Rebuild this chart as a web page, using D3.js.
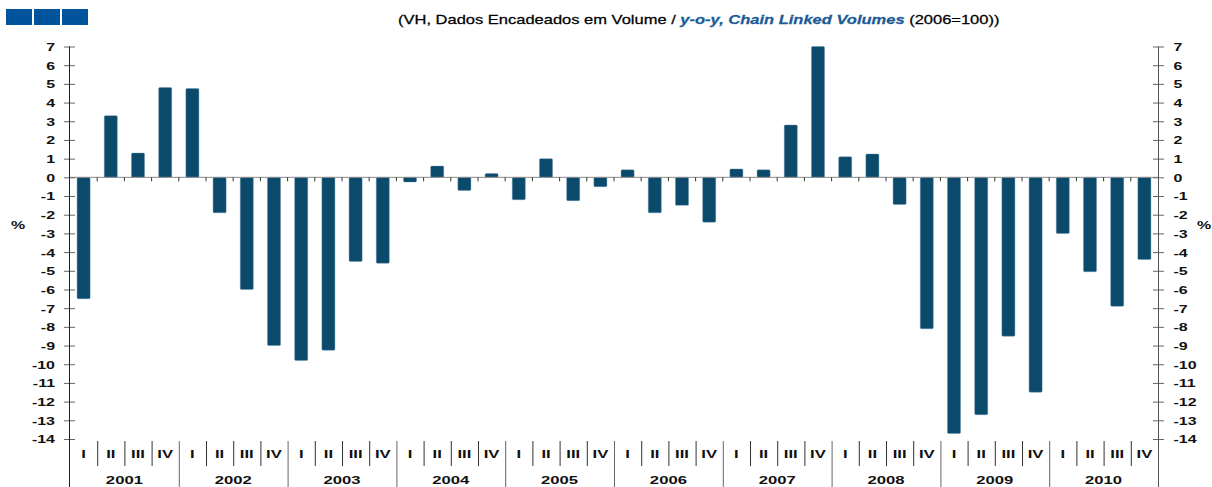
<!DOCTYPE html>
<html><head><meta charset="utf-8">
<script src="https://cdn.jsdelivr.net/npm/d3@7"></script>
<style>
body{margin:0;background:#fff}
svg{display:block}
text{font-family:"Liberation Sans",Arial,sans-serif}
</style>
</head><body>
<svg id="c" width="1212" height="487"></svg>
<script>
const years = ["2001","2002","2003","2004","2005","2006","2007","2008","2009","2010"];
const quarters = ["I","II","III","IV"];
const values = [
  -6.5, 3.3, 1.3, 4.8,
   4.75, -1.9, -6.0, -9.0,
  -9.8, -9.25, -4.5, -4.6,
  -0.25, 0.6, -0.7, 0.2,
  -1.2, 1.0, -1.25, -0.5,
   0.4, -1.9, -1.5, -2.4,
   0.45, 0.4, 2.8, 7.0,
   1.1, 1.25, -1.45, -8.1,
  -13.7, -12.7, -8.5, -11.5,
  -3.0, -5.05, -6.9, -4.4
];
const yTicks = d3.range(-14, 8);
const titleParts = [
  {t:"(VH, Dados Encadeados em Volume / ", c:"#000", s:"normal", w:"normal"},
  {t:"y-o-y, Chain Linked Volumes", c:"#1b5b96", s:"italic", w:"bold"},
  {t:" (2006=100))", c:"#000", s:"normal", w:"normal"}
];

const SX = 1.45;
const barColor = "#0b4a6b";
const svg = d3.select("#c");

const cats = [];
years.forEach(yv => quarters.forEach(q => cats.push(yv + "-" + q)));

const x = d3.scaleBand().domain(cats).range([70, 1158]).paddingInner(0.52).paddingOuter(0.26);
const y = d3.scaleLinear().domain([-14, 7]).range([439, 46.5]);
const step = x.step();
const x0 = x.range()[0];
const zeroY = y(0);

// logo squares
svg.append("g").selectAll("rect").data([0,1,2]).join("rect")
  .attr("x", d => 6 + d*28).attr("y", 9).attr("width", 26).attr("height", 16)
  .attr("fill", "#00549b");

// title
const tg = svg.append("g");
const tt = tg.append("text").attr("x", 0).attr("y", 0).attr("font-size", 13)
  .attr("stroke-width", 0.25);
titleParts.forEach(p => tt.append("tspan").text(p.t).attr("fill", p.c).attr("stroke", p.c)
  .attr("font-style", p.s).attr("font-weight", p.w));
const tw = tt.node().getComputedTextLength();
tg.attr("transform", `translate(398,24) scale(${602/tw},1)`);

// bars
svg.append("g").selectAll("rect").data(values).join("rect")
  .attr("x", (d,i) => x(cats[i]))
  .attr("width", x.bandwidth())
  .attr("y", d => d >= 0 ? y(d) : zeroY)
  .attr("height", d => Math.abs(y(d) - zeroY))
  .attr("rx", 1.2)
  .attr("fill", barColor)
  .attr("stroke", "#5f8fab").attr("stroke-width", 0.4);

// zero line
svg.append("line").attr("x1", 70).attr("x2", 1158).attr("y1", zeroY).attr("y2", zeroY)
  .attr("stroke", "#8a8a8a").attr("stroke-width", 1);
svg.append("g").selectAll("line").data(d3.range(1, cats.length)).join("line")
  .attr("x1", i => x0 + i*step).attr("x2", i => x0 + i*step)
  .attr("y1", zeroY).attr("y2", zeroY + 4)
  .attr("stroke", "#333").attr("stroke-width", 1);

// y axes
function styleAxis(g, side) {
  g.select(".domain").remove();
  g.selectAll(".tick line").attr("x1", -5.5).attr("x2", 5.5).attr("stroke", "#666");
  g.selectAll(".tick text")
    .attr("font-size", 11).attr("font-weight", "bold").attr("fill", "#111")
    .attr("font-family", '"Liberation Sans",Arial,sans-serif')
    .attr("transform", `scale(${SX},1)`)
    .attr("x", side === "left" ? -14.5/SX : 15/SX)
    .attr("dy", "0.36em");
}
const yl = svg.append("g").attr("transform", "translate(69.5,0)")
  .call(d3.axisLeft(y).tickValues(yTicks).tickFormat(d => String(d)).tickSize(6));
styleAxis(yl, "left");
const yr = svg.append("g").attr("transform", "translate(1158.5,0)")
  .call(d3.axisRight(y).tickValues(yTicks).tickFormat(d => String(d)).tickSize(6));
styleAxis(yr, "right");

svg.append("line").attr("x1", 69.5).attr("x2", 69.5).attr("y1", 46.5).attr("y2", 487)
  .attr("stroke", "#222").attr("stroke-width", 1);
svg.append("line").attr("x1", 1158.5).attr("x2", 1158.5).attr("y1", 46.5).attr("y2", 487)
  .attr("stroke", "#555").attr("stroke-width", 1);

// stretched bold text helper
function stext(px, py, str, size, anchor) {
  svg.append("g").attr("transform", `translate(${px},${py}) scale(${SX},1)`)
    .append("text").text(str).attr("font-size", size).attr("font-weight", "bold")
    .attr("text-anchor", anchor).attr("fill", "#111");
}
stext(18, 229, "%", 11, "middle");
stext(1204, 229, "%", 11, "middle");

// quarter separators & labels
svg.append("g").selectAll("line").data(d3.range(1, cats.length).filter(i => i % 4 !== 0)).join("line")
  .attr("x1", i => x0 + i*step + 0.5).attr("x2", i => x0 + i*step + 0.5)
  .attr("y1", 441).attr("y2", 466).attr("stroke", "#333").attr("stroke-width", 1);
svg.append("g").selectAll("line").data(d3.range(1, years.length)).join("line")
  .attr("x1", i => x0 + i*4*step + 0.5).attr("x2", i => x0 + i*4*step + 0.5)
  .attr("y1", 441).attr("y2", 487).attr("stroke", "#666").attr("stroke-width", 1);

cats.forEach((c, i) => {
  stext(x(c) + x.bandwidth()/2, 458, quarters[i % 4], 11.5, "middle");
});
years.forEach((yv, i) => {
  stext(x0 + (i*4 + 2)*step, 484, yv, 11.5, "middle");
});
</script>
</body></html>
